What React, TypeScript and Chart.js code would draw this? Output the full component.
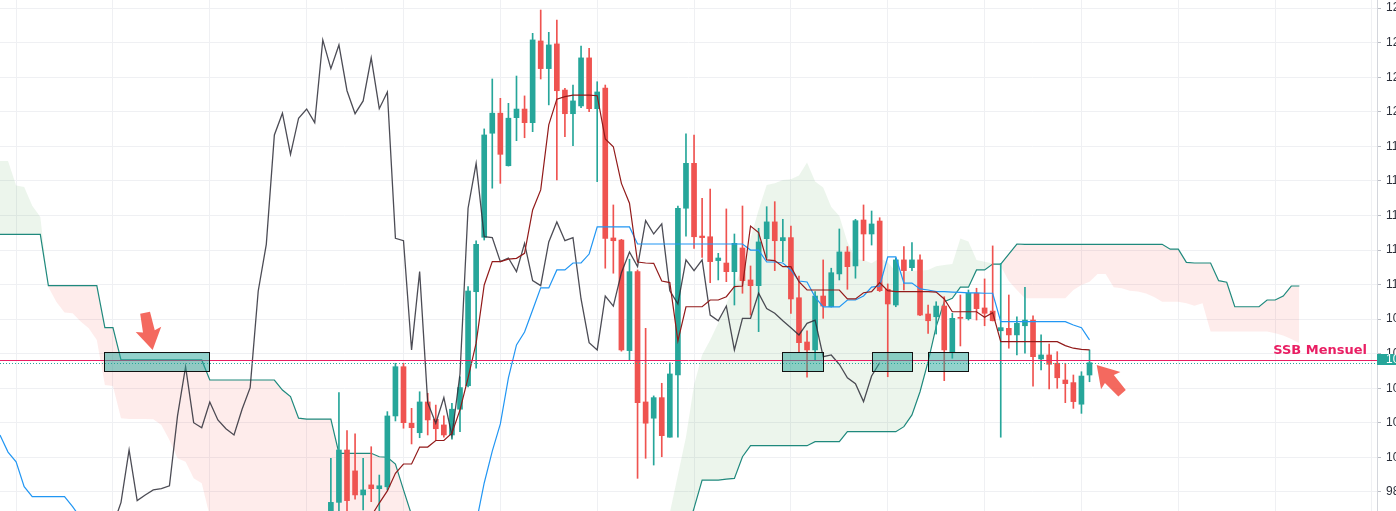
import React, { useEffect, useRef } from "react";
import { Chart, registerables } from "chart.js";

Chart.register(...registerables);

// ---------- DATA ----------
// candle index of the first entry in the OHLC arrays
const CANDLE_START = 38;
const opens = [
  96.5, 96.5,
  97.40, 100.43, 99.22, 97.83, 98.41, 98.19, 98.30, 102.40, 105.25, 101.98,
  101.43, 103.21, 102.21, 101.88, 101.30, 102.79, 104.15, 109.59, 112.74, 118.76,
  119.92, 116.88, 119.66, 120.16, 119.37, 124.10, 122.50, 123.93, 121.26, 119.89,
  120.34, 123.12, 120.18, 121.38, 112.70, 112.58, 106.18, 110.75, 103.21, 102.27,
  103.46, 101.17, 104.77, 114.42, 117.02, 112.81, 112.77, 111.39, 111.25, 110.75,
  112.12, 110.27, 109.94, 112.66, 113.63, 112.54, 112.72, 109.24, 106.68, 106.22,
  109.34, 108.72, 110.62, 111.89, 111.08, 113.74, 112.93, 113.68, 109.73, 108.82,
  111.43, 110.98, 111.43, 108.30, 108.14, 108.76, 106.06, 108.11, 108.03, 109.50,
  108.65, 108.47, 107.33, 107.47, 107.09, 107.62, 107.95, 105.70, 105.93, 105.45,
  104.48, 104.33, 103.08, 104.77,
];
const highs = [
  96.7, 99.95,
  103.75, 101.55, 101.36, 99.95, 100.62, 98.98, 102.65, 105.45, 105.45, 102.84,
  103.80, 103.71, 103.03, 102.40, 103.13, 104.67, 109.88, 112.54, 119.01, 121.90,
  120.78, 120.49, 122.07, 120.92, 124.54, 125.89, 124.60, 125.31, 121.36, 121.55,
  123.81, 123.68, 121.74, 121.55, 114.61, 112.62, 111.47, 110.85, 107.47, 103.56,
  104.29, 105.48, 114.55, 118.72, 118.66, 115.0, 115.53, 111.81, 114.38, 112.93,
  114.55, 111.08, 113.26, 114.51, 114.80, 113.78, 113.39, 110.50, 107.33, 109.59,
  111.43, 110.95, 113.22, 112.20, 113.78, 114.61, 114.26, 113.87, 110.04, 111.54,
  112.20, 112.43, 111.72, 108.82, 109.01, 109.30, 108.34, 109.40, 109.69, 109.79,
  110.33, 112.24, 111.23, 109.40, 108.14, 109.85, 108.19, 107.09, 106.56, 106.12,
  105.45, 104.77, 104.96, 106.22,
];
const lows = [
  95.8, 96.0,
  96.7, 96.8, 97.58, 96.96, 97.44, 96.85, 98.12, 102.11, 101.69, 100.78,
  101.14, 101.30, 101.01, 101.17, 101.05, 101.49, 104.08, 105.16, 112.58, 115.58,
  115.86, 116.86, 118.33, 118.50, 118.85, 121.90, 120.40, 116.06, 118.56, 118.04,
  120.24, 120.01, 115.96, 110.95, 110.66, 106.15, 105.60, 98.79, 99.95, 99.56,
  100.04, 101.17, 101.17, 112.81, 112.10, 111.58, 110.11, 110.27, 110.17, 108.82,
  109.50, 108.24, 107.28, 111.52, 110.81, 111.33, 108.34, 106.12, 104.64, 105.64,
  108.05, 108.70, 110.27, 109.73, 110.37, 111.39, 112.29, 109.60, 104.67, 108.72,
  109.69, 110.81, 108.20, 107.18, 107.14, 104.44, 105.74, 106.45, 107.95, 107.95,
  107.62, 107.90, 101.17, 106.32, 105.93, 106.03, 104.13, 105.06, 103.96, 104.0,
  103.17, 102.84, 102.55, 104.38,
];
const closes = [
  96.05, 97.40,
  100.43, 97.50, 97.83, 98.12, 98.19, 98.36, 102.40, 105.25, 102.01, 101.72,
  103.21, 102.17, 101.66, 101.30, 102.79, 104.04, 109.63, 112.33, 118.66, 119.92,
  117.54, 119.63, 120.16, 119.37, 124.16, 122.50, 123.87, 121.22, 119.89, 120.63,
  123.12, 120.18, 121.15, 112.68, 112.54, 106.22, 110.75, 103.17, 101.98, 103.46,
  101.26, 104.83, 114.42, 117.02, 112.77, 112.72, 111.33, 111.54, 110.75, 112.39,
  110.23, 109.94, 112.47, 113.63, 112.54, 112.72, 109.17, 106.64, 106.22, 109.34,
  108.76, 110.69, 111.89, 111.04, 113.70, 112.93, 113.51, 109.65, 108.88, 111.43,
  110.81, 111.43, 108.24, 107.91, 108.76, 106.22, 108.05, 108.05, 109.50, 108.61,
  108.34, 107.91, 107.51, 107.09, 107.76, 107.95, 105.83, 105.93, 105.39, 104.61,
  104.27, 103.23, 104.71, 105.48,
];
const CHIKOU_SHIFT = 26;

// Tenkan-sen (two visible stretches)
const TENKAN_EARLY_START = -2;
const tenkanEarly = [101.30, 100.31, 99.75, 98.31, 97.73, 97.73, 97.73, 97.73, 97.73, 97.15, 96.5];
const TENKAN_LATE_START = 57;
const tenkanLate = [
  96.2, 98.52, 100.37, 101.94, 104.60, 106.51, 107.26, 108.53, 109.81, 109.81,
  110.85, 110.85, 111.25, 111.25, 111.77, 113.34, 113.34, 113.34, 113.34, 113.34,
  112.35, 112.35, 112.35, 112.35, 112.35, 112.35, 112.35, 112.35, 112.35, 112.35,
  112.35, 112.35, 112.35, 112.35, 112.0, 112.0, 111.31, 111.31, 111.25, 110.85,
  110.21, 110.15, 109.28, 108.71, 108.71, 108.71, 109.11, 109.11, 109.34, 109.86,
  109.92, 111.60, 111.60, 110.09, 110.09, 109.75, 109.69, 109.59, 109.59, 109.57,
  109.55, 109.52, 109.52, 109.50, 109.50, 107.86, 107.86, 107.86, 107.86, 107.86,
  107.86, 107.86, 107.86, 107.86, 107.66, 107.51, 106.80,
];

// Kijun-sen
const KIJUN_START = 44;
const kijun = [
  96.6, 97.36, 98.06, 99.08, 99.62, 99.62, 100.60, 100.60, 100.98, 100.98,
  101.40, 102.75, 104.60, 106.61, 109.98, 111.33, 111.33, 111.47, 111.52, 111.81,
  114.32, 115.48, 119.24, 120.73, 120.88, 120.97, 120.97, 120.97, 120.93, 118.43,
  117.98, 115.86, 114.71, 111.31, 111.25, 111.23, 110.21, 110.12, 106.74, 108.72,
  108.72, 108.72, 109.11, 109.11, 109.30, 109.88, 109.92, 113.39, 113.01, 111.43,
  111.39, 111.04, 111.04, 110.17, 109.69, 109.69, 109.69, 109.69, 109.69, 109.17,
  109.17, 109.53, 109.59, 110.11, 109.65, 109.59, 109.59, 109.59, 109.59, 109.59,
  109.57, 109.17, 108.43, 108.43, 108.43, 108.43, 108.11, 108.38, 106.70, 106.70,
  106.70, 106.70, 106.70, 106.70, 106.70, 106.70, 106.47, 106.32, 106.25, 106.22,
];

// Senkou spans (already displaced forward)
const CLOUD_START = -2;
const senkouA = [
  117.15, 117.15, 115.73, 115.65, 114.57, 113.91, 109.86, 109.0, 108.38, 108.34,
  107.86, 107.47, 106.80, 104.19, 104.13, 102.27, 102.22, 102.22, 102.22, 102.21,
  101.88, 101.01, 99.95, 99.75, 98.79, 98.50, 96.6,
  96.0, 96.0, 96.0, 96.0, 96.0, 96.0, 96.0, 96.0, 96.0, 96.0,
  96.0, 96.0, 96.0, 96.0, 96.0, 96.0, 96.0, 96.0, 96.0, 96.0,
  96.0, 96.0, 96.0, 96.0, 96.0, 96.0, 96.0, 96.0, 96.0, 96.0,
  96.0, 96.0, 96.0, 96.0, 96.0, 96.0, 96.0, 96.0, 96.0, 96.0,
  96.0, 96.0, 96.0, 96.0, 96.0, 96.0, 96.0, 96.0, 96.0, 96.0,
  96.0, 96.0, 96.0, 96.0, 96.0, 96.0,
  96.8, 98.98, 101.18, 104.19, 105.93, 106.80, 107.78, 108.88, 109.92, 110.96,
  112.70, 114.32, 115.77, 115.86, 116.06, 116.10, 116.32, 117.07, 115.96, 115.62,
  114.49, 113.97, 112.47, 111.48, 111.43, 111.23, 111.52, 111.31, 110.73, 110.76,
  110.79, 110.82, 110.85, 111.06, 111.14, 111.19, 112.67, 112.49, 111.43, 111.33,
  111.22, 111.08, 110.21, 109.69,
  109.21, 109.21, 109.21, 109.21, 109.21, 109.21,
  109.69, 109.98, 110.17, 110.62, 110.62, 109.85, 109.79, 109.65, 109.60, 109.49,
  109.28, 109.01, 109.01, 109.01, 108.92, 108.78, 108.92,
  107.28, 107.28, 107.28, 107.28, 107.28, 107.28, 107.28, 107.28,
  107.19, 107.06, 106.85, 106.61,
];
const senkouB = [
  112.91, 112.91, 112.91, 112.91, 112.91, 112.91,
  109.94, 109.94, 109.94, 109.94, 109.94, 109.94, 109.94,
  107.51, 107.51,
  105.64, 105.64, 105.64, 105.64, 105.64, 105.64, 105.64, 105.64, 105.64, 105.64, 105.64,
  104.48, 104.48, 104.48, 104.48, 104.48, 104.48, 104.48, 104.48, 104.48,
  103.90, 103.52, 102.27, 102.22, 102.22, 102.22, 102.22,
  100.24, 100.24, 100.24, 100.24, 100.24, 100.04, 100.01, 99.62, 98.12, 96.67,
  95.5, 95.5, 95.5, 95.5, 95.5, 95.5, 95.5, 95.5, 95.5, 95.5,
  95.5, 95.5, 95.5, 95.5, 95.5, 95.5, 95.5, 95.5, 95.5, 95.5,
  95.5, 95.5, 95.5, 95.5, 95.5, 95.5, 95.5, 95.5, 95.5, 95.5,
  95.5, 95.5, 95.5, 95.5,
  97.07, 98.69, 98.69, 98.69, 98.75, 98.79, 100.04,
  100.68, 100.68, 100.68, 100.68, 100.68, 100.68, 100.68, 100.68,
  100.91, 100.91, 100.91, 100.91,
  101.49, 101.49, 101.49, 101.49, 101.49, 101.49, 101.49,
  101.78, 102.46, 103.80, 105.54, 107.57, 109.01, 109.21, 109.85, 109.85, 110.85,
  110.85, 111.19, 111.19, 111.77, 112.35,
  112.33, 112.33, 112.33, 112.33, 112.33, 112.33, 112.33, 112.33, 112.33, 112.33,
  112.33, 112.33, 112.33, 112.33, 112.33, 112.33, 112.33, 112.33,
  112.05, 112.05, 111.29, 111.25, 111.25, 111.25, 110.23, 110.14,
  108.72, 108.72, 108.72, 108.72, 109.11, 109.11, 109.34, 109.92, 109.92,
];

// axes
const X_MIN = -1.995;
const X_MAX = 168.62;
const Y_MIN = 96.9;
const Y_MAX = 126.47;
const yTicks = [98, 100, 102, 104, 106, 108, 110, 112, 114, 116, 118, 120, 122, 124, 126];
const xGrid = [0, 12, 24, 36, 48, 60, 72, 84, 96, 108, 120, 132, 144, 156, 168];

// annotations
const SSB_LEVEL = 105.61;
const ssbLabel = "SSB Mensuel";
const zoneStart = [10.93, 94.93, 106.0, 113.02];
const zoneEnd = [23.94, 100.01, 111.04, 117.98];
const ZONE_TOP = 106.1;
const ZONE_BOTTOM = 105.0;
const arrowX = [16.92, 133.89];
const arrowY = [106.22, 105.35];
const arrowAngle = [78.5, 228.1];

// ---------- STYLE ----------
const GREEN = "#26a69a";
const RED = "#ef5350";
const PINK = "#e91e63";
const GRID = "#eff0f3";

const series = (arr: (number | null)[], start: number) =>
  arr.map((v, k) => ({ x: start + k, y: v }));

const overlay = {
  id: "overlay",
  afterDatasetsDraw(chart: any) {
    const { ctx, chartArea: a, scales } = chart;
    const xs = scales.x;
    const ys = scales.y;
    ctx.save();
    ctx.beginPath();
    ctx.rect(a.left, a.top, a.right - a.left, a.bottom - a.top);
    ctx.clip();

    // last price dotted line
    const last = closes[closes.length - 1];
    const py = Math.round(ys.getPixelForValue(last)) + 0.5;
    ctx.strokeStyle = GREEN;
    ctx.lineWidth = 1;
    ctx.setLineDash([1, 2]);
    ctx.beginPath();
    ctx.moveTo(a.left, py);
    ctx.lineTo(a.right, py);
    ctx.stroke();
    ctx.setLineDash([]);

    // SSB line
    const sy = Math.round(ys.getPixelForValue(SSB_LEVEL)) + 0.5;
    ctx.strokeStyle = PINK;
    ctx.beginPath();
    ctx.moveTo(a.left, sy);
    ctx.lineTo(a.right, sy);
    ctx.stroke();

    // zones
    for (let k = 0; k < zoneStart.length; k++) {
      const x1 = Math.round(xs.getPixelForValue(zoneStart[k]));
      const x2 = Math.round(xs.getPixelForValue(zoneEnd[k]));
      const y1 = Math.round(ys.getPixelForValue(ZONE_TOP));
      const y2 = Math.round(ys.getPixelForValue(ZONE_BOTTOM));
      ctx.fillStyle = "rgba(38,166,154,0.5)";
      ctx.fillRect(x1, y1, x2 - x1, y2 - y1);
      ctx.strokeStyle = "#111";
      ctx.lineWidth = 1;
      ctx.strokeRect(x1 + 0.5, y1 + 0.5, x2 - x1, y2 - y1);
    }

    // arrows
    for (let k = 0; k < arrowX.length; k++) {
      const tx = xs.getPixelForValue(arrowX[k]);
      const ty = ys.getPixelForValue(arrowY[k]);
      ctx.save();
      ctx.translate(tx, ty);
      ctx.rotate((arrowAngle[k] * Math.PI) / 180);
      ctx.beginPath();
      ctx.moveTo(0, 0);
      ctx.lineTo(-21, -13);
      ctx.lineTo(-19, -6);
      ctx.lineTo(-38, -5);
      ctx.lineTo(-38, 5);
      ctx.lineTo(-19, 6);
      ctx.lineTo(-21, 13);
      ctx.closePath();
      ctx.fillStyle = "rgba(242,72,60,0.82)";
      ctx.fill();
      ctx.restore();
    }

    // SSB label
    ctx.font = 'bold 13px "DejaVu Sans"';
    ctx.fillStyle = PINK;
    ctx.textAlign = "right";
    ctx.textBaseline = "alphabetic";
    ctx.fillText(ssbLabel, a.right - 10, sy - 6.5);
    ctx.restore();
  },
  afterDraw(chart: any) {
    const { ctx, chartArea: a, scales } = chart;
    const last = closes[closes.length - 1];
    const py = scales.y.getPixelForValue(last);
    ctx.save();
    ctx.fillStyle = GREEN;
    ctx.fillRect(a.right, Math.round(py - 9), chart.width - a.right, 11);
    ctx.fillStyle = "#ffffff";
    ctx.font = '12px "Liberation Sans"';
    ctx.textAlign = "left";
    ctx.textBaseline = "middle";
    ctx.fillText(last.toFixed(2), a.right + 9, py - 3.5);
    ctx.restore();
  },
};

export default function App() {
  const ref = useRef<HTMLCanvasElement>(null);
  useEffect(() => {
    document.body.style.margin = "0";
    const candleX = closes.map((_, k) => CANDLE_START + k);
    const colors = closes.map((c, k) => (c >= opens[k] ? GREEN : RED));
    const tenkanData = [
      ...series(tenkanEarly, TENKAN_EARLY_START),
      { x: 30, y: null },
      ...series(tenkanLate, TENKAN_LATE_START),
    ];
    const chikouData = closes.map((c, k) => ({ x: CANDLE_START + k - CHIKOU_SHIFT, y: c }));

    const chart = new Chart(ref.current as HTMLCanvasElement, {
      type: "bar",
      data: {
        datasets: [
          {
            type: "line",
            label: "Senkou A",
            data: series(senkouA, CLOUD_START),
            borderColor: "rgba(0,0,0,0)",
            borderWidth: 0,
            pointRadius: 0,
            tension: 0,
            fill: { target: 1, above: "rgba(67,160,71,0.1)", below: "rgba(244,67,54,0.1)" },
            order: 10,
          },
          {
            type: "line",
            label: "Senkou B",
            data: series(senkouB, CLOUD_START),
            borderColor: "#1f897d",
            borderWidth: 1.2,
            pointRadius: 0,
            tension: 0,
            fill: false,
            order: 9,
          },
          {
            type: "bar",
            label: "wicks",
            data: candleX.map((x, k) => ({ x, y: [lows[k], highs[k]] })),
            backgroundColor: colors,
            barThickness: 1,
            grouped: false,
            order: 8,
          },
          {
            type: "bar",
            label: "bodies",
            data: candleX.map((x, k) => ({ x, y: [opens[k], closes[k]] })),
            backgroundColor: colors,
            barThickness: 5,
            grouped: false,
            minBarLength: 1,
            order: 7,
          },
          {
            type: "line",
            label: "Chikou",
            data: chikouData,
            borderColor: "rgba(45,45,55,0.85)",
            borderWidth: 1.3,
            pointRadius: 0,
            tension: 0,
            fill: false,
            order: 5,
          },
          {
            type: "line",
            label: "Tenkan",
            data: tenkanData,
            borderColor: "#2196f3",
            borderWidth: 1.2,
            pointRadius: 0,
            tension: 0,
            fill: false,
            spanGaps: false,
            order: 4,
          },
          {
            type: "line",
            label: "Kijun",
            data: series(kijun, KIJUN_START),
            borderColor: "#921a1a",
            borderWidth: 1.2,
            pointRadius: 0,
            tension: 0,
            fill: false,
            order: 3,
          },
        ] as any,
      },
      options: {
        animation: false,
        responsive: false,
        maintainAspectRatio: false,
        events: [],
        layout: { padding: 0 },
        plugins: { legend: { display: false }, tooltip: { enabled: false } },
        scales: {
          x: {
            type: "linear",
            min: X_MIN,
            max: X_MAX,
            offset: false,
            grid: { color: GRID, drawTicks: false, offset: false },
            border: { display: false },
            ticks: { display: false },
            afterBuildTicks: (s: any) => {
              s.ticks = xGrid.map((v) => ({ value: v }));
            },
            afterFit: (s: any) => {
              s.height = 0;
              s.paddingLeft = 0;
              s.paddingRight = 0;
            },
          },
          y: {
            position: "right",
            min: Y_MIN,
            max: Y_MAX,
            grid: { color: GRID, tickLength: 4, tickColor: "#b9bcc4" },
            border: { display: true, color: "#d4d6dc" },
            ticks: {
              padding: 5,
              color: "#2a2e39",
              font: { family: "Liberation Sans", size: 12 },
            },
            afterBuildTicks: (s: any) => {
              s.ticks = yTicks.map((v) => ({ value: v }));
            },
            afterFit: (s: any) => {
              s.width = 60;
              s.paddingTop = 0;
              s.paddingBottom = 0;
            },
          },
        },
      } as any,
      plugins: [overlay as any],
    });
    return () => chart.destroy();
  }, []);

  return (
    <div
      style={{
        position: "fixed",
        left: 0,
        top: 0,
        width: 1396,
        height: 511,
        overflow: "hidden",
        background: "#ffffff",
      }}
    >
      <canvas ref={ref} width={1437} height={511} style={{ display: "block", width: 1437, height: 511 }} />
    </div>
  );
}
